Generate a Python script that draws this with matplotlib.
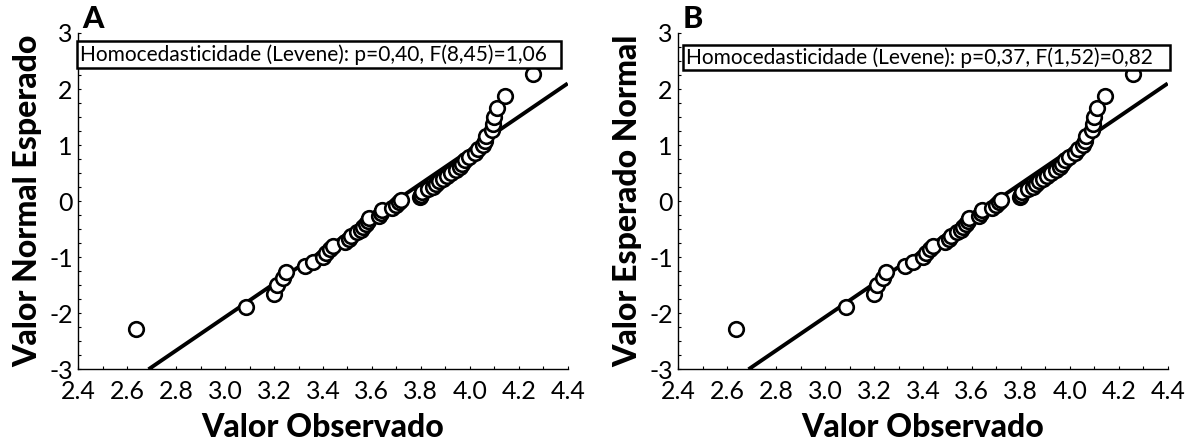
import matplotlib
matplotlib.use("Agg")
import matplotlib.pyplot as plt
from matplotlib.patches import Rectangle
from matplotlib.ticker import MultipleLocator, FixedLocator, FormatStrFormatter

plt.rcParams['font.family'] = ['Lato', 'DejaVu Sans']
plt.rcParams['axes.unicode_minus'] = False

observed = [2.637, 3.084, 3.200, 3.212, 3.235, 3.250, 3.325, 3.358, 3.400, 3.412,
            3.430, 3.442, 3.490, 3.505, 3.515, 3.540, 3.555, 3.565, 3.575, 3.582,
            3.586, 3.630, 3.636, 3.642, 3.680, 3.700, 3.710, 3.720, 3.795, 3.800,
            3.806, 3.830, 3.848, 3.860, 3.875, 3.890, 3.905, 3.925, 3.945, 3.960,
            3.970, 3.982, 3.995, 4.020, 4.035, 4.052, 4.060, 4.066, 4.090, 4.095,
            4.100, 4.110, 4.145, 4.260]
# Expected normal values
expected = [-2.273, -1.881, -1.661, -1.500, -1.371, -1.261, -1.164, -1.078, -0.999, -0.925,
            -0.856, -0.792, -0.730, -0.671, -0.614, -0.559, -0.506, -0.454, -0.403, -0.353,
            -0.305, -0.257, -0.210, -0.163, -0.116, -0.069, -0.023, 0.023, 0.069, 0.116,
            0.163, 0.210, 0.257, 0.305, 0.353, 0.403, 0.454, 0.506, 0.559, 0.614,
            0.671, 0.730, 0.792, 0.856, 0.925, 0.999, 1.078, 1.164, 1.261, 1.371,
            1.500, 1.661, 1.881, 2.273]
# Reference line endpoints
line_x = [2.687, 4.40]
line_y = [-3.0, 2.10]

panel_letters = ["A", "B"]
ylabels = ["Valor Normal Esperado", "Valor Esperado Normal"]
xlabel = "Valor Observado"
box_texts = ["Homocedasticidade (Levene): p=0,40, F(8,45)=1,06",
             "Homocedasticidade (Levene): p=0,37, F(1,52)=0,82"]
box_extent = [(2.394, 4.372, 2.368, 2.863), (2.419, 4.408, 2.340, 2.790)]
xticks = [2.4, 2.6, 2.8, 3.0, 3.2, 3.4, 3.6, 3.8, 4.0, 4.2, 4.4]
yticks = [-3, -2, -1, 0, 1, 2, 3]

fig = plt.figure(figsize=(11.92, 4.48), dpi=100)
lefts = [78.3 / 1192, 678.3 / 1192]
W = 489.4 / 1192
B = 1 - 369.3 / 448
H = 336.3 / 448

for i in range(2):
    ax = fig.add_axes([lefts[i], B, W, H])
    ax.plot(line_x, line_y, color='black', lw=2.8, solid_capstyle='butt', zorder=2)
    ax.plot(observed, expected, linestyle='none', marker='o', ms=10.5,
            mfc='white', mec='black', mew=1.9, zorder=3, clip_on=False)
    ax.set_xlim(2.4, 4.4)
    ax.set_ylim(-3, 3)
    for s in ['top', 'right']:
        ax.spines[s].set_visible(False)
    for s in ['left', 'bottom']:
        ax.spines[s].set_linewidth(1.0)
    ax.xaxis.set_major_locator(FixedLocator(xticks))
    ax.xaxis.set_major_formatter(FormatStrFormatter('%.1f'))
    ax.yaxis.set_major_locator(FixedLocator(yticks))
    ax.xaxis.set_minor_locator(MultipleLocator(0.1))
    ax.yaxis.set_minor_locator(MultipleLocator(0.25))
    ax.tick_params(axis='both', which='both', direction='in', length=2.5, width=0.8)
    ax.tick_params(axis='x', which='major', labelsize=18, pad=8)
    ax.tick_params(axis='y', which='major', labelsize=18, pad=4)
    ax.set_xlabel(xlabel, fontsize=23, fontweight='black', labelpad=7)
    ax.set_ylabel(ylabels[i], fontsize=23, fontweight='black', labelpad=5)
    x0, x1, y0, y1 = box_extent[i]
    ax.add_patch(Rectangle((x0, y0), x1 - x0, y1 - y0, facecolor='white',
                           edgecolor='black', lw=1.8, zorder=4, clip_on=False))
    ax.text(x0 + 0.012, (y0 + y1) / 2, box_texts[i], fontsize=15,
            ha='left', va='center', zorder=5, clip_on=False)
    ax.text(0.008, 1.0, panel_letters[i], transform=ax.transAxes, fontsize=22,
            fontweight='black', ha='left', va='bottom')

fig.savefig("out.png", dpi=100)
